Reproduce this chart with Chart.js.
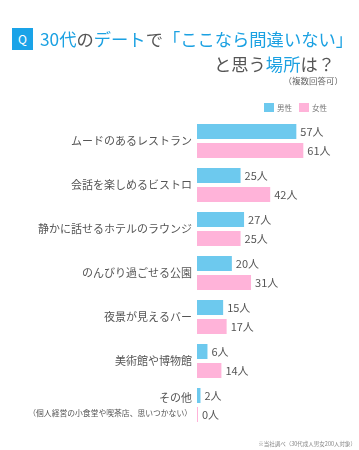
<!DOCTYPE html>
<html>
<head>
<meta charset="utf-8">
<script src="https://cdn.jsdelivr.net/npm/chart.js@4"></script>
<style>
  html, body { margin: 0; padding: 0; background: #fff; }
  #wrap { position: relative; width: 359px; height: 450px; overflow: hidden;
    font-family: "Noto Sans CJK JP", "Noto Sans", sans-serif; color: #555; }
  #chart { position: absolute; left: 0; top: 0; }
  .b { color: #1ba1e2; }
  #qbox { position: absolute; left: 12px; top: 28px; width: 21px; height: 22px;
    background: #1aa3e8; color: #fff; font-size: 12px; line-height: 22px; text-align: center; }
  #t1 { position: absolute; left: 40px; top: 27px; font-size: 17.3px; line-height: 24px; white-space: nowrap; }
  #t2 { position: absolute; right: 24px; top: 52px; font-size: 17.3px; line-height: 24px; white-space: nowrap; }
  #t3 { position: absolute; right: 16px; top: 74px; font-size: 8.5px; line-height: 12px; white-space: nowrap; color: #666; }
  #legend { position: absolute; right: 32px; top: 103px; font-size: 7.5px; line-height: 10px; color: #777; white-space: nowrap; }
  #legend span.box { display: inline-block; width: 10px; height: 9px; vertical-align: -1px; margin-right: 3px; }
  #legend span.item { margin-left: 7px; }
  #foot { position: absolute; right: 3px; top: 440px; font-size: 5.5px; line-height: 8px; color: #888; white-space: nowrap; }
</style>
</head>
<body>
<div id="wrap">
  <canvas id="chart" width="359" height="450"></canvas>
  <div id="qbox">Q</div>
  <div id="t1"><span class="b">30代</span>の<span class="b">デート</span>で<span class="b">「ここなら間違いない」</span></div>
  <div id="t2">と思う<span class="b">場所</span>は？</div>
  <div id="t3">（複数回答可）</div>
  <div id="legend"></div>
  <div id="foot">※当社調べ（30代成人男女200人対象）</div>
</div>
<script>
const categories = [
  "ムードのあるレストラン",
  "会話を楽しめるビストロ",
  "静かに話せるホテルのラウンジ",
  "のんびり過ごせる公園",
  "夜景が見えるバー",
  "美術館や博物館",
  "その他"
];
const categoryNotes = ["", "", "", "", "", "", "（個人経営の小食堂や喫茶店、思いつかない）"];
const seriesNames = ["男性", "女性"];
const maleValues = [57, 25, 27, 20, 15, 6, 2];
const femaleValues = [61, 42, 25, 31, 17, 14, 0];
const colors = ["#6dc9ee", "#ffb3d9"];
const unit = "人";
const FONT = '"Noto Sans CJK JP", "Noto Sans", sans-serif';

// legend in html
const legendEl = document.getElementById("legend");
seriesNames.forEach((name, i) => {
  const item = document.createElement("span");
  item.className = "item";
  item.innerHTML = '<span class="box" style="background:' + colors[i] + '"></span>' + name;
  legendEl.appendChild(item);
});

const categoryLabels = {
  id: "categoryLabels",
  afterDraw(chart) {
    const ctx = chart.ctx;
    const y = chart.scales.y;
    const left = chart.chartArea.left - 5;
    ctx.save();
    ctx.fillStyle = "#555";
    ctx.textAlign = "right";
    ctx.textBaseline = "middle";
    categories.forEach((c, i) => {
      const py = y.getPixelForValue(i);
      if (categoryNotes[i]) {
        ctx.font = "11px " + FONT;
        ctx.fillText(c, left, py - 7);
        ctx.font = "7.8px " + FONT;
        ctx.fillText(categoryNotes[i], left, py + 8);
      } else {
        ctx.font = "11px " + FONT;
        ctx.fillText(c, left, py);
      }
    });
    ctx.restore();
  }
};

const valueLabels = {
  id: "valueLabels",
  afterDatasetsDraw(chart) {
    const ctx = chart.ctx;
    ctx.save();
    ctx.fillStyle = "#555";
    ctx.font = "11px " + FONT;
    ctx.textAlign = "left";
    ctx.textBaseline = "middle";
    chart.data.datasets.forEach((ds, di) => {
      chart.getDatasetMeta(di).data.forEach((bar, i) => {
        ctx.fillText(ds.data[i] + unit, bar.x + 4, bar.y);
      });
    });
    ctx.restore();
  }
};

new Chart(document.getElementById("chart").getContext("2d"), {
  type: "bar",
  data: {
    labels: categories,
    datasets: [
      { label: seriesNames[0], data: maleValues, backgroundColor: colors[0], minBarLength: 1 },
      { label: seriesNames[1], data: femaleValues, backgroundColor: colors[1], minBarLength: 1 }
    ]
  },
  options: {
    indexAxis: "y",
    responsive: false,
    animation: false,
    layout: { padding: { left: 197, right: 40, top: 119, bottom: 23 } },
    datasets: { bar: { categoryPercentage: 0.864, barPercentage: 0.79 } },
    scales: {
      x: { display: false, min: 0, max: 70 },
      y: { display: false }
    },
    plugins: { legend: { display: false }, tooltip: { enabled: false } }
  },
  plugins: [categoryLabels, valueLabels]
});
</script>
</body>
</html>
